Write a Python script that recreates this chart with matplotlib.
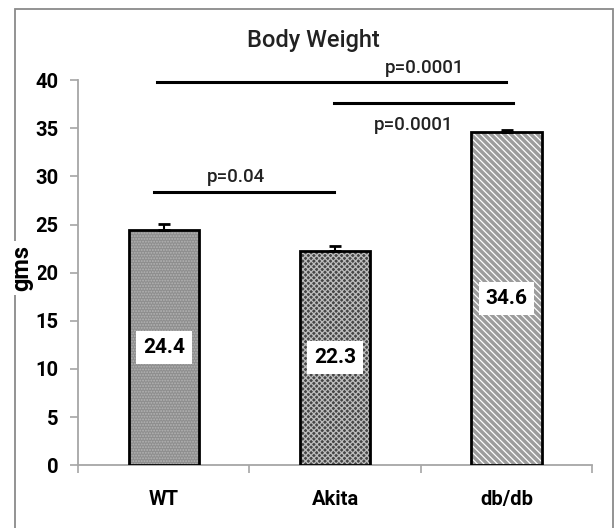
import numpy as np
import matplotlib.pyplot as plt
from matplotlib.patches import Rectangle

# data
groups = ['WT', 'Akita', 'db/db']
weights = [24.4, 22.3, 34.6]
errors = [0.7, 0.45, 0.25]
value_labels = ['24.4', '22.3', '34.6']

# significance bars: (x start, x end, y, label, label x, label y)
sig_x0 = [-0.056, 0.991, -0.038]
sig_x1 = [0.991, 2.038, 1.997]
sig_y = [28.4, 37.6, 39.8]
sig_text = ['p=0.04', 'p=0.0001', 'p=0.0001']
sig_tx = [0.42, 1.46, 1.52]
sig_ty = [29.9, 35.4, 41.3]

fill_colors = ['#8e8e8e', '#464646', '#9c9c9c']
hatch_colors = ['#b4b4b4', '#bdbdbd', '#ffffff']
hatches = ['......', 'xxxxxx', '\\\\\\\\\\']

plt.rcParams['font.family'] = ['Roboto', 'DejaVu Sans']
plt.rcParams['hatch.linewidth'] = 0.9

fig = plt.figure(figsize=(6.15, 5.28), dpi=100)
ax = fig.add_axes([0.127, 0.119, 0.836, 0.729])

x = np.arange(len(groups))
for i in range(len(groups)):
    ax.bar(x[i], weights[i], width=0.41, color=fill_colors[i], hatch=hatches[i],
           edgecolor=hatch_colors[i], linewidth=0, zorder=2)
    ax.bar(x[i], weights[i], width=0.41, fill=False, edgecolor='black',
           linewidth=2, zorder=3)
    ax.text(x[i], weights[i] / 2, value_labels[i], ha='center', va='center',
            fontsize=15, fontweight='bold', zorder=4,
            bbox=dict(facecolor='white', edgecolor='none', pad=5))

ax.errorbar(x, weights, yerr=[np.zeros(3), errors], fmt='none', ecolor='black',
            elinewidth=1.5, capsize=4, capthick=2, zorder=4)

for i in range(len(sig_x0)):
    ax.plot([sig_x0[i], sig_x1[i]], [sig_y[i], sig_y[i]], color='black', lw=2.2,
            clip_on=False, zorder=5)
    ax.text(sig_tx[i], sig_ty[i], sig_text[i], ha='center', va='center',
            fontsize=13.5, fontweight='medium', color='#222222')

ax.set_xlim(-0.5, 2.5)
ax.set_ylim(0, 40)
ax.set_yticks(np.arange(0, 41, 5))
ax.set_xticks(x)
ax.set_xticklabels(groups, fontsize=14.5, fontweight='bold')
ax.set_xticks([-0.5, 0.5, 1.5, 2.5], minor=True)
ax.tick_params(axis='x', which='major', length=0, pad=18)
ax.tick_params(axis='x', which='minor', length=6, color='#a6a6a6', width=1.2)
ax.tick_params(axis='y', length=6, color='#a6a6a6', width=1.2, pad=8,
               labelsize=14.5)
for lab in ax.get_yticklabels():
    lab.set_fontweight('bold')
for side in ['top', 'right']:
    ax.spines[side].set_visible(False)
for side in ['left', 'bottom']:
    ax.spines[side].set_color('#a6a6a6')
    ax.spines[side].set_linewidth(1.3)

# outer frame
fig.patches.append(Rectangle((15 / 615, -0.05), (613 - 15) / 615, 1.05 - 9 / 528,
                             transform=fig.transFigure, fill=False,
                             edgecolor='#8a8a8a', linewidth=1.3))

fig.text(313 / 615, 1 - 40 / 528, 'Body Weight', ha='center', va='center',
         fontsize=17, fontweight='medium', color='#222222')
fig.text(22 / 615, 1 - 268 / 528, 'gms', rotation=90, ha='center', va='center',
         fontsize=17, fontweight='bold',
         bbox=dict(facecolor='white', edgecolor='none', pad=3))

fig.savefig('out.png', dpi=100)
